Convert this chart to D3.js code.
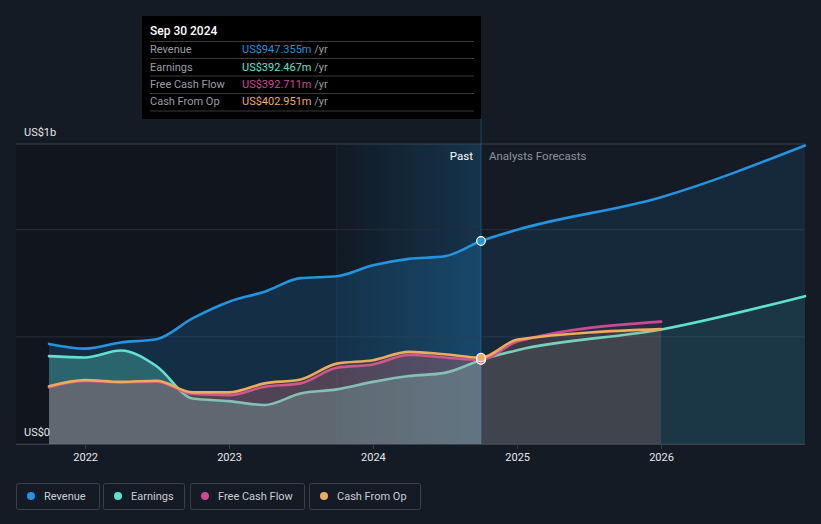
<!DOCTYPE html>
<html><head><meta charset="utf-8">
<script src="https://cdn.jsdelivr.net/npm/d3@7"></script>
<style>html,body{margin:0;padding:0;background:#151b24;} svg{display:block;font-family:Roboto,"Noto Sans",sans-serif;}</style>
</head><body><svg id="c" width="821" height="524"></svg>
<script>
// ---- data ----
const pastDates = ["2021-09-30","2021-12-31","2022-03-31","2022-06-30","2022-09-30","2022-12-31","2023-03-31","2023-06-30","2023-09-30","2023-12-31","2024-03-31","2024-06-30","2024-09-30"];
const revenuePast  = [467,445,474,489,587,664,711,774,783,834,864,876,947.355];
const earningsPast = [410,404,436,363,212,200,182,236,255,290,317,332,392.467];
const fcfPast      = [264,294,287,291,233,228,267,283,356,371,415,404,392.711];
const cfoPast      = [270,298,290,295,241,241,283,301,375,391,430,419,402.951];
const forecastDates = ["2024-12-31","2025-12-31","2026-12-31"];
const revenueForecast  = [1000,1152,1393];
const earningsForecast = [438,534,690];
const fcfForecast      = [478,571];
const cfoForecast      = [487,536];
const seriesNames = ["Revenue","Earnings","Free Cash Flow","Cash From Op"];
const tooltipTitle = "Sep 30 2024";
const tooltipValues = ["US$947.355m","US$392.467m","US$392.711m","US$402.951m"];
const gridValues = [0,500,1000,1400];
const yLabelValues = [0,1400];
const yLabelTexts = ["US$0","US$1b"];
const xTickYears = [2022,2023,2024,2025,2026];

// ---- setup ----
const W=821,H=524;
const svg=d3.select("#c");
const parse=d3.timeParse("%Y-%m-%d");
const x=d3.scaleTime().domain([parse("2021-09-30"),parse("2026-12-31")]).range([49,805]);
const y=d3.scaleLinear().domain([0,1400]).range([444,144]);
const L=16,R=805,T=y(1400),B=y(0);
const xNow=x(parse("2024-09-30"));
const xBand=x(parse("2023-09-30"));

svg.append("rect").attr("width",W).attr("height",H).attr("fill","#151b24");
const defs=svg.append("defs");
defs.append("clipPath").attr("id","cpPast").append("rect").attr("x",0).attr("y",0).attr("width",xNow).attr("height",H);
defs.append("clipPath").attr("id","cpFut").append("rect").attr("x",xNow).attr("y",0).attr("width",W-xNow).attr("height",H);
const g=defs.append("linearGradient").attr("id","band").attr("x1","0").attr("x2","1").attr("y1","0").attr("y2","0");
g.append("stop").attr("offset","0").attr("stop-color","#2394df").attr("stop-opacity",0.03);
g.append("stop").attr("offset","1").attr("stop-color","#2394df").attr("stop-opacity",0.24);

// past darker overlay
svg.append("rect").attr("x",L).attr("y",T).attr("width",xNow-L).attr("height",B-T).attr("fill","#000").attr("opacity",0.16);
svg.append("rect").attr("x",xBand).attr("y",T).attr("width",xNow-xBand).attr("height",B-T).attr("fill","url(#band)");

// gridlines
svg.selectAll(".grid").data(gridValues).join("line")
  .attr("x1",L).attr("x2",R).attr("y1",d=>y(d)).attr("y2",d=>y(d))
  .attr("stroke",d=>d===1400?"#3d434d":"#262d38").attr("stroke-width",1);

// vertical markers
svg.append("line").attr("x1",xBand).attr("x2",xBand).attr("y1",T).attr("y2",B).attr("stroke","#2394df").attr("stroke-opacity",0.12);
svg.append("line").attr("x1",xNow).attr("x2",xNow).attr("y1",118).attr("y2",B).attr("stroke","#2394df").attr("stroke-opacity",0.35);

// series
const mk=(p,f)=>pastDates.map((d,i)=>({date:parse(d),v:p[i]})).concat(f.map((v,i)=>({date:parse(forecastDates[i]),v})));
const series=[
  {name:seriesNames[0],color:"#2394df",data:mk(revenuePast,revenueForecast),pa:0.2,fa:0.12},
  {name:seriesNames[1],color:"#5fe3ce",data:mk(earningsPast,earningsForecast),pa:0.3,fa:0.08},
  {name:seriesNames[2],color:"#cc4a92",data:mk(fcfPast,fcfForecast),pa:0.2,fa:0.1},
  {name:seriesNames[3],color:"#ecac5c",data:mk(cfoPast,cfoForecast),pa:0.13,fa:0.1}
];
const area=d3.area().curve(d3.curveMonotoneX).x(d=>x(d.date)).y0(B).y1(d=>y(d.v));
const line=d3.line().curve(d3.curveMonotoneX).x(d=>x(d.date)).y(d=>y(d.v));
series.forEach(s=>{
  svg.append("path").attr("d",area(s.data)).attr("fill",s.color).attr("fill-opacity",s.pa).attr("clip-path","url(#cpPast)");
  svg.append("path").attr("d",area(s.data)).attr("fill",s.color).attr("fill-opacity",s.fa).attr("clip-path","url(#cpFut)");
  svg.append("path").attr("d",line(s.data)).attr("fill","none").attr("stroke",s.color).attr("stroke-width",2.6).attr("stroke-linecap","round");
});

// axis
svg.append("line").attr("x1",L).attr("x2",R).attr("y1",B+0.5).attr("y2",B+0.5).attr("stroke","#3a414c");
xTickYears.forEach(yr=>{
  const xx=x(new Date(yr,0,1));
  svg.append("line").attr("x1",xx).attr("x2",xx).attr("y1",B).attr("y2",B+5).attr("stroke","#3a414c");
  svg.append("text").attr("x",xx).attr("y",461).attr("text-anchor","middle").attr("fill","#e4e6ea").attr("font-size",11).text(yr);
});
yLabelValues.forEach((v,i)=>{
  svg.append("text").attr("x",24).attr("y",y(v)-8).attr("fill","#e4e6ea").attr("font-size",11).text(yLabelTexts[i]);
});
svg.append("text").attr("x",xNow-8).attr("y",160).attr("text-anchor","end").attr("fill","#ffffff").attr("font-size",11.5).text("Past");
svg.append("text").attr("x",xNow+8).attr("y",160).attr("fill","#8d929a").attr("font-size",11.5).text("Analysts Forecasts");

// markers
series.forEach((s,i)=>{
  const last=s.data[pastDates.length-1];
  svg.append("circle").attr("cx",xNow).attr("cy",y(last.v)).attr("r",4.3).attr("fill",s.color).attr("stroke","#fff").attr("stroke-width",1.2);
});

// tooltip
svg.append("rect").attr("x",142).attr("y",16).attr("width",xNow-142).attr("height",103).attr("fill","#000");
svg.append("text").attr("x",150).attr("y",35).attr("fill","#fff").attr("font-size",12).attr("font-weight",500).text(tooltipTitle);
const sepY=[41.5,58.5,76,93.5,111];
sepY.forEach(sy=>svg.append("line").attr("x1",150).attr("x2",474).attr("y1",sy).attr("y2",sy).attr("stroke","#3a3a3a"));
const rowY=[53,70.5,88,105];
series.forEach((s,i)=>{
  svg.append("text").attr("x",150).attr("y",rowY[i]).attr("fill","#9a9ea5").attr("font-size",11).text(s.name);
  const t=svg.append("text").attr("x",242).attr("y",rowY[i]).attr("font-size",11);
  t.append("tspan").attr("fill",s.color).text(tooltipValues[i]);
  t.append("tspan").attr("fill","#9a9ea5").text(" /yr");
});

// legend
const legX=[16,103,190,309], legW=[83,81,114,111];
series.forEach((s,i)=>{
  const lx=legX[i];
  const gi=svg.append("g");
  gi.append("rect").attr("x",lx+0.5).attr("y",483.5).attr("width",legW[i]).attr("height",26).attr("rx",2).attr("fill","none").attr("stroke","#3a414c");
  gi.append("circle").attr("cx",lx+15).attr("cy",496).attr("r",4).attr("fill",s.color);
  gi.append("text").attr("x",lx+28).attr("y",500).attr("fill","#c9cdd3").attr("font-size",11).text(s.name);
});
</script></body></html>
